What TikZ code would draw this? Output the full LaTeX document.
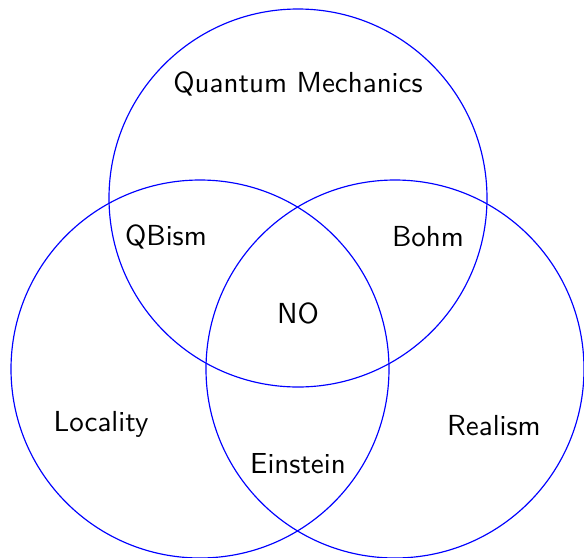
\documentclass[tikz,border=0pt]{standalone}
\renewcommand{\familydefault}{\sfdefault}
\begin{document}
\begin{tikzpicture}[x=0.345pt,y=-0.345pt,
  venn/.style={draw=blue, line width=0.4pt},
  lab/.style={font=\sffamily, inner sep=0pt}]
\useasboundingbox (0,0) rectangle (584,557);
\begin{scope}
\clip (0,0) rectangle (584,557);
\draw[venn] (298,198) circle[radius=189];
\draw[venn] (200,369) circle[radius=189];
\draw[venn] (395,369) circle[radius=189];
\end{scope}
\node[lab] (qm) at (298,84) {Quantum Mechanics};
\node[lab] (qb) at (166,237) {QBism};
\node[lab] (bo) at (428,237) {Bohm};
\node[lab] (no) at (298,313) {NO};
\node[lab] (lo) at (101,424) {Locality};
\node[lab] (re) at (494,426) {Realism};
\node[lab] (ei) at (298,464) {Einstein};
\end{tikzpicture}
\end{document}
